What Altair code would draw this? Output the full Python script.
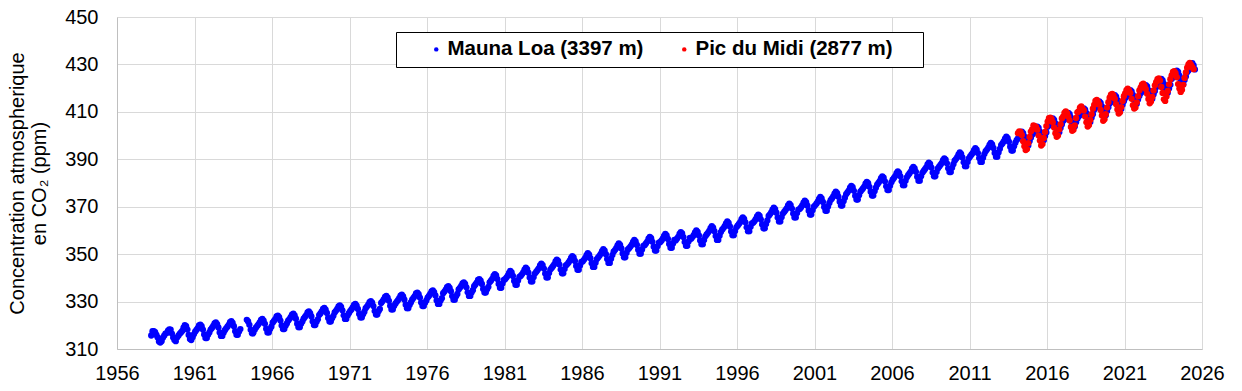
import altair as alt
import pandas as pd

# ---- axis ticks / categories ----
year_ticks = list(range(1956, 2027, 5))
ppm_ticks = list(range(310, 451, 20))
series_names = ["Mauna Loa (3397 m)", "Pic du Midi (2877 m)"]
series_colors = ["#0000FF", "#FF0000"]

# ---- Mauna Loa monthly CO2 (ppm), each list starts in January of its first year ----
ml_1958_1959 = [
    None, None, 315.7, 317.5, 317.5, 317.1, 315.9, 314.9, 313.2, 312.7, 313.3, 314.7,
    315.6, 316.5, 316.7, 317.7, 318.3, 318.2, 316.5, 314.8, 313.8, 313.3, 314.8, 315.6,
]
ml_1960s = [
    316.4, 317.0, 317.6, 319.0, 320.0, 319.6, 318.2, 315.9, 314.2, 313.8, 315.0, 316.2,
    317.3, 318.0, 318.8, 319.9, 320.3, 319.6, 318.2, 316.1, 314.6, 314.6, 316.0, 317.0,
    318.2, 318.9, 319.7, 320.8, 321.2, 320.5, 319.1, 317.0, 315.5, 315.5, 316.9, 317.9,
    318.7, 319.4, 320.2, 321.3, 321.7, 321.0, 319.6, 317.5, 316.0, 316.0, 317.4, 318.4,
    None, None, None, None, 322.3, 321.6, 320.2, 318.1, 316.6, 316.6, 318.0, 319.0,
    319.7, 320.4, 321.2, 322.3, 322.7, 322.0, 320.6, 318.5, 317.0, 317.0, 318.4, 319.4,
    321.1, 321.8, 322.6, 323.7, 324.1, 323.4, 322.0, 319.9, 318.4, 318.4, 319.8, 320.8,
    321.9, 322.6, 323.4, 324.5, 324.9, 324.2, 322.8, 320.7, 319.2, 319.2, 320.6, 321.6,
    322.8, 323.5, 324.3, 325.4, 325.8, 325.1, 323.7, 321.6, 320.1, 320.1, 321.5, 322.5,
    324.3, 325.0, 325.8, 326.9, 327.3, 326.6, 325.2, 323.1, 321.6, 321.6, 323.0, 324.0,
]
ml_1970s = [
    325.4, 326.1, 326.9, 328.0, 328.4, 327.7, 326.3, 324.2, 322.7, 322.7, 324.1, 325.1,
    326.0, 326.7, 327.5, 328.6, 329.0, 328.3, 326.9, 324.8, 323.3, 323.3, 324.7, 325.7,
    327.2, 327.9, 328.7, 329.8, 330.2, 329.5, 328.1, 326.0, 324.5, 324.5, 325.9, 326.9,
    329.4, 330.1, 330.9, 332.0, 332.4, 331.7, 330.3, 328.2, 326.7, 326.7, 328.1, 329.1,
    329.9, 330.6, 331.4, 332.5, 332.9, 332.2, 330.8, 328.7, 327.2, 327.2, 328.6, 329.6,
    330.8, 331.5, 332.3, 333.4, 333.8, 333.1, 331.7, 329.6, 328.1, 328.1, 329.5, 330.5,
    331.7, 332.4, 333.2, 334.3, 334.7, 334.0, 332.6, 330.5, 329.0, 329.0, 330.4, 331.4,
    333.5, 334.2, 335.0, 336.1, 336.5, 335.8, 334.4, 332.3, 330.8, 330.8, 332.2, 333.2,
    335.1, 335.8, 336.6, 337.7, 338.1, 337.4, 336.0, 333.9, 332.4, 332.4, 333.8, 334.8,
    336.5, 337.2, 338.0, 339.1, 339.5, 338.8, 337.4, 335.3, 333.8, 333.8, 335.2, 336.2,
]
ml_1980s = [
    338.1, 338.8, 339.6, 340.8, 341.6, 341.0, 339.5, 337.4, 335.8, 335.8, 337.6, 339.1,
    339.4, 340.1, 340.9, 342.1, 342.9, 342.3, 340.8, 338.7, 337.1, 337.1, 338.9, 340.4,
    340.8, 341.5, 342.3, 343.5, 344.3, 343.7, 342.2, 340.1, 338.5, 338.5, 340.3, 341.8,
    342.5, 343.2, 344.0, 345.2, 346.0, 345.4, 343.9, 341.8, 340.2, 340.2, 342.0, 343.5,
    344.2, 344.9, 345.7, 346.9, 347.7, 347.1, 345.6, 343.5, 341.9, 341.9, 343.7, 345.2,
    345.7, 346.4, 347.2, 348.4, 349.2, 348.6, 347.1, 345.0, 343.4, 343.4, 345.2, 346.7,
    346.9, 347.6, 348.4, 349.6, 350.4, 349.8, 348.3, 346.2, 344.6, 344.6, 346.4, 347.9,
    348.6, 349.3, 350.1, 351.3, 352.1, 351.5, 350.0, 347.9, 346.3, 346.3, 348.1, 349.6,
    351.0, 351.7, 352.5, 353.7, 354.5, 353.9, 352.4, 350.3, 348.7, 348.7, 350.5, 352.0,
    352.5, 353.2, 354.0, 355.2, 356.0, 355.4, 353.9, 351.8, 350.2, 350.2, 352.0, 353.5,
]
ml_1990s = [
    353.8, 354.5, 355.3, 356.5, 357.3, 356.7, 355.2, 353.1, 351.5, 351.5, 353.3, 354.8,
    355.0, 355.7, 356.5, 357.7, 358.5, 357.9, 356.4, 354.3, 352.7, 352.7, 354.5, 356.0,
    355.8, 356.5, 357.3, 358.5, 359.3, 358.7, 357.2, 355.1, 353.5, 353.5, 355.3, 356.8,
    356.5, 357.2, 358.0, 359.2, 360.0, 359.4, 357.9, 355.8, 354.2, 354.2, 356.0, 357.5,
    358.3, 359.0, 359.8, 361.0, 361.8, 361.2, 359.7, 357.6, 356.0, 356.0, 357.8, 359.3,
    360.3, 361.0, 361.8, 363.0, 363.8, 363.2, 361.7, 359.6, 358.0, 358.0, 359.8, 361.3,
    362.0, 362.7, 363.5, 364.7, 365.5, 364.9, 363.4, 361.3, 359.7, 359.7, 361.5, 363.0,
    363.2, 363.9, 364.7, 365.9, 366.7, 366.1, 364.6, 362.5, 360.9, 360.9, 362.7, 364.2,
    366.1, 366.8, 367.6, 368.8, 369.6, 369.0, 367.5, 365.4, 363.8, 363.8, 365.6, 367.1,
    367.8, 368.5, 369.3, 370.5, 371.3, 370.7, 369.2, 367.1, 365.5, 365.5, 367.3, 368.8,
]
ml_2000s = [
    369.0, 369.7, 370.5, 371.7, 372.5, 371.9, 370.4, 368.3, 366.7, 366.7, 368.5, 370.0,
    370.6, 371.3, 372.1, 373.3, 374.1, 373.5, 372.0, 369.9, 368.3, 368.3, 370.1, 371.6,
    372.8, 373.5, 374.3, 375.5, 376.3, 375.7, 374.2, 372.1, 370.5, 370.5, 372.3, 373.8,
    375.3, 376.0, 376.8, 378.0, 378.8, 378.2, 376.7, 374.6, 373.0, 373.0, 374.8, 376.3,
    377.0, 377.7, 378.5, 379.7, 380.5, 379.9, 378.4, 376.3, 374.7, 374.7, 376.5, 378.0,
    379.3, 380.0, 380.8, 382.0, 382.8, 382.2, 380.7, 378.6, 377.0, 377.0, 378.8, 380.3,
    381.4, 382.1, 382.9, 384.1, 384.9, 384.3, 382.8, 380.7, 379.1, 379.1, 380.9, 382.4,
    383.3, 384.0, 384.8, 386.0, 386.8, 386.2, 384.7, 382.6, 381.0, 381.0, 382.8, 384.3,
    385.1, 385.8, 386.6, 387.8, 388.6, 388.0, 386.5, 384.4, 382.8, 382.8, 384.6, 386.1,
    386.9, 387.6, 388.4, 389.6, 390.4, 389.8, 388.3, 386.2, 384.6, 384.6, 386.4, 387.9,
]
ml_2010s = [
    389.4, 390.1, 390.9, 392.1, 392.9, 392.3, 390.8, 388.7, 387.1, 387.1, 388.9, 390.4,
    391.2, 391.9, 392.7, 393.9, 394.7, 394.1, 392.6, 390.5, 388.9, 388.9, 390.7, 392.2,
    393.4, 394.1, 394.9, 396.1, 396.9, 396.3, 394.8, 392.7, 391.1, 391.1, 392.9, 394.4,
    396.0, 396.7, 397.5, 398.7, 399.5, 398.9, 397.4, 395.3, 393.7, 393.7, 395.5, 397.0,
    398.1, 398.8, 399.6, 400.8, 401.6, 401.0, 399.5, 397.4, 395.8, 395.8, 397.6, 399.1,
    400.3, 401.0, 401.8, 403.0, 403.8, 403.2, 401.7, 399.6, 398.0, 398.0, 399.8, 401.3,
    403.7, 404.4, 405.2, 406.4, 407.2, 406.6, 405.1, 403.0, 401.4, 401.4, 403.2, 404.7,
    406.1, 406.8, 407.6, 408.8, 409.6, 409.0, 407.5, 405.4, 403.8, 403.8, 405.6, 407.1,
    408.0, 408.7, 409.5, 410.7, 411.5, 410.9, 409.4, 407.3, 405.7, 405.7, 407.5, 409.0,
    410.9, 411.6, 412.4, 413.6, 414.4, 413.8, 412.3, 410.2, 408.6, 408.6, 410.4, 411.9,
]
ml_2020s = [
    413.5, 414.2, 415.0, 416.2, 417.0, 416.4, 414.9, 412.8, 411.2, 411.2, 413.0, 414.5,
    415.7, 416.4, 417.2, 418.4, 419.2, 418.6, 417.1, 415.0, 413.4, 413.4, 415.2, 416.7,
    417.8, 418.5, 419.3, 420.5, 421.3, 420.7, 419.2, 417.1, 415.5, 415.5, 417.3, 418.8,
    420.4, 421.1, 421.9, 423.1, 423.9, 423.3, 421.8, 419.7, 418.1, 418.1, 419.9, 421.4,
    423.9, 424.6, 425.4, 426.6, 427.4, 426.8, 425.3, 423.2, 421.6, 421.6, 423.4, 424.9,
    426.7, 427.4, 428.2, 429.6, 430.5, 429.6, 427.9,
]

# ---- Pic du Midi monthly CO2 (ppm), each list starts in January of its first year ----
pdm_2010s = [
    None, 401.0, 401.8, 401.5, 400.2, 397.6, 395.5, 393.9, 394.3, 396.8, 399.4, 401.7,
    402.6, 404.3, 404.0, 403.7, 402.5, 400.0, 397.9, 395.8, 396.4, 399.0, 401.5, 404.0,
    405.9, 407.3, 407.5, 407.0, 405.6, 403.4, 401.0, 399.5, 400.0, 402.6, 404.8, 407.2,
    408.0, 409.6, 410.2, 409.5, 408.0, 406.4, 403.6, 402.0, 402.5, 404.3, 407.4, 409.8,
    410.2, 411.8, 412.3, 411.4, 410.6, 408.0, 405.6, 403.8, 404.5, 406.6, 409.0, 411.3,
    412.9, 414.6, 415.0, 414.2, 413.0, 410.8, 408.5, 406.2, 406.9, 409.0, 411.8, 414.1,
]
pdm_2020s = [
    416.0, 417.3, 417.6, 416.8, 415.5, 413.2, 411.0, 409.3, 409.8, 412.0, 414.6, 416.6,
    417.8, 419.2, 419.8, 419.0, 417.9, 415.5, 412.8, 411.4, 411.8, 414.0, 416.6, 419.0,
    420.2, 421.5, 421.9, 420.9, 419.6, 417.6, 415.4, 413.6, 414.4, 416.3, 419.0, 421.2,
    422.5, 423.8, 424.1, 423.2, 420.5, 418.0, 415.3, 414.6, 416.5, 418.8, 421.6, 423.8,
    425.4, 426.8, 427.2, 426.3, 424.6, 421.7, 419.8, 418.4, 419.3, 421.4, 424.3, 426.6,
    428.6, 430.0, 430.6, 429.8, 428.8, 428.0,
]

blocks = [
    (series_names[0], 1958, ml_1958_1959),
    (series_names[0], 1960, ml_1960s),
    (series_names[0], 1970, ml_1970s),
    (series_names[0], 1980, ml_1980s),
    (series_names[0], 1990, ml_1990s),
    (series_names[0], 2000, ml_2000s),
    (series_names[0], 2010, ml_2010s),
    (series_names[0], 2020, ml_2020s),
    (series_names[1], 2014, pdm_2010s),
    (series_names[1], 2020, pdm_2020s),
]

rows = []
order = 0
for name, start, vals in blocks:
    for i, v in enumerate(vals):
        if v is None:
            continue
        rows.append({"series": name, "date": start + (i + 0.5) / 12.0, "ppm": v, "k": order})
        order += 1
df = pd.DataFrame(rows)

FONT = "Liberation Sans"
# trailing non-breaking spaces, closed by a zero-width space so they are not trimmed
PAD = "\u00a0" * 4 + "\u200b"

chart = alt.Chart(df).mark_circle(size=40, opacity=1).encode(
    x=alt.X(
        "date:Q",
        scale=alt.Scale(domain=[1956, 2026], nice=False, zero=False),
        axis=alt.Axis(
            values=year_ticks, format="d", title=None, grid=True, ticks=False, tickSize=0,
            labelPadding=14, labelFontSize=20, labelFont=FONT, labelColor="black",
            gridColor="#d9d9d9", domainColor="#bfbfbf", labelFlush=False,
        ),
    ),
    y=alt.Y(
        "ppm:Q",
        scale=alt.Scale(domain=[310, 450], nice=False, zero=False),
        axis=alt.Axis(
            values=ppm_ticks, title=["Concentration atmospherique", "en CO₂ (ppm)"],
            grid=True, ticks=False, tickSize=0, labelPadding=19, labelFontSize=20,
            labelFont=FONT, labelColor="black", titleFont=FONT, titleFontSize=20,
            titleFontWeight="normal", titleColor="black", titlePadding=15, titleLineHeight=22,
            gridColor="#d9d9d9", domainColor="#bfbfbf",
        ),
    ),
    color=alt.Color(
        "series:N",
        scale=alt.Scale(domain=series_names, range=series_colors),
        legend=alt.Legend(
            title=None, orient="none", legendX=279, legendY=15, direction="horizontal",
            columns=2, symbolType="circle", symbolSize=20, symbolStrokeWidth=0,
            symbolOffset=23, labelOffset=1, columnPadding=7, padding=7,
            labelFont=FONT, labelFontSize=20.5, labelFontWeight="bold", labelColor="black",
            strokeColor="black", fillColor="white", labelLimit=400,
            labelExpr="datum.label == 'Pic du Midi (2877 m)' ? datum.label + '" + PAD + "' : datum.label",
        ),
    ),
    order=alt.Order("k:Q"),
).properties(
    width=1085,
    height=332,
    autosize=alt.AutoSizeParams(type="none"),
    padding={"left": 109, "top": 9, "right": 30, "bottom": 33},
).configure_view(stroke=None)

chart.save("out.html", embed_options={"renderer": "svg", "actions": False})
